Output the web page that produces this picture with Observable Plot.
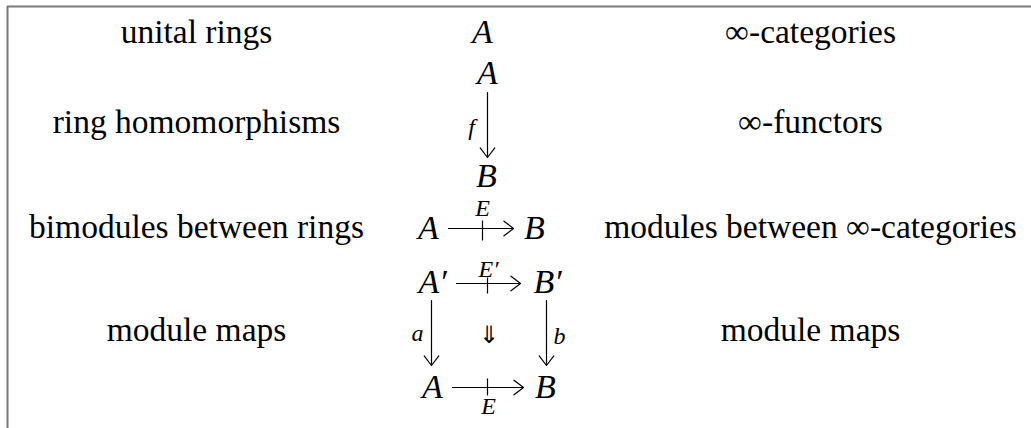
<!DOCTYPE html>
<html><head><meta charset="utf-8">
<script src="https://cdn.jsdelivr.net/npm/d3@7"></script>
<script src="https://cdn.jsdelivr.net/npm/@observablehq/plot@0.6"></script>
<style>html,body{margin:0;padding:0;background:#fff;} #chart svg{display:block}</style>
</head><body><div id="chart"></div>
<script>
// ---------- content ----------
const rowKeys = ["objects", "morphisms", "bimodules", "maps"];
const ringConcepts = ["unital rings", "ring homomorphisms", "bimodules between rings", "module maps"];
const infinityConcepts = ["∞-categories", "∞-functors", "modules between ∞-categories", "module maps"];
const nodeLabels = ["A", "A", "B", "A", "B", "A′", "B′", "A", "B"];
const nodeRows = ["objects", "morphisms", "morphisms", "bimodules", "bimodules", "maps", "maps", "maps", "maps"];
const arrowNames = ["f", "E", "E′", "a", "b", "E"];
const arrowKinds = ["functor", "module", "module", "functor", "functor", "module"];
const twoCellLabels = ["⇓"];

// ---------- layout ----------
const W = 1031, H = 428;
const colCenter = [196, 488, 810];
const rowBaseline = [42, 132, 237, 340];
const nodePos = [[482, 42], [487, 83], [486, 186], [428, 238], [534, 238], [432, 292], [547, 292], [432, 397], [545, 397]];
const arrowPos = [[487, 92, 487, 157], [448, 228, 513, 228], [456, 283, 520, 283], [431, 300, 431, 365], [546, 300, 546, 365], [452, 387, 523, 387]];
const arrowLabelPos = [[471, 134], [482, 215], [488, 276], [417, 340], [559, 343], [488, 413]];
const tickPos = {1: [482, 220, 240], 2: [487, 277, 293], 5: [487, 378, 395]};
const twoCellPos = [[488, 335]];

const serif = "Liberation Serif";
const leftCells = ringConcepts.map((t, i) => ({text: t, key: rowKeys[i], x: colCenter[0], y: rowBaseline[i]}));
const rightCells = infinityConcepts.map((t, i) => ({text: t, key: rowKeys[i], x: colCenter[2], y: rowBaseline[i]}));
const nodes = nodeLabels.map((t, i) => ({text: t, row: nodeRows[i], x: nodePos[i][0], y: nodePos[i][1]}));
const arrows = arrowNames.map((n, i) => ({name: n, kind: arrowKinds[i], x1: arrowPos[i][0], y1: arrowPos[i][1], x2: arrowPos[i][2], y2: arrowPos[i][3], lx: arrowLabelPos[i][0], ly: arrowLabelPos[i][1]}));
const ticks = arrows.map((a, i) => ({...a, t: tickPos[i]})).filter(a => a.kind === "module");
const twoCells = twoCellLabels.map((t, i) => ({text: t, x: twoCellPos[i][0], y: twoCellPos[i][1]}));

const chart = Plot.plot({
  width: W, height: H, margin: 0,
  x: {domain: [0, W], range: [0, W], axis: null},
  y: {domain: [0, H], range: [0, H], axis: null},
  style: {background: "#fff", overflow: "hidden"},
  marks: [
    Plot.ruleY([6], {x1: 7, x2: W, stroke: "#7a7a7a", strokeWidth: 2}),
    Plot.ruleX([7], {y1: 6, y2: H, stroke: "#7a7a7a", strokeWidth: 2}),
    Plot.text(leftCells, {x: "x", y: "y", text: "text", fontFamily: serif, fontSize: 33.5, lineAnchor: "bottom", textAnchor: "middle", fill: "#000"}),
    Plot.text(rightCells, {x: "x", y: "y", text: "text", fontFamily: serif, fontSize: 33.5, lineAnchor: "bottom", textAnchor: "middle", fill: "#000"}),
    Plot.text(nodes, {x: "x", y: "y", text: "text", fontFamily: serif, fontStyle: "italic", fontSize: 34, lineAnchor: "bottom", textAnchor: "middle", fill: "#000"}),
    Plot.arrow(arrows, {x1: "x1", y1: "y1", x2: "x2", y2: "y2", stroke: "#000", strokeWidth: 1.2, headAngle: 75, headLength: 15}),
    Plot.link(ticks, {x1: d => d.t[0], x2: d => d.t[0], y1: d => d.t[1], y2: d => d.t[2], stroke: "#000", strokeWidth: 1.2}),
    Plot.text(arrows, {x: "lx", y: "ly", text: "name", fontFamily: serif, fontStyle: "italic", fontSize: 24, lineAnchor: "bottom", textAnchor: "middle", fill: "#000"}),
    Plot.text(twoCells, {x: "x", y: "y", text: "text", fontFamily: serif, fontSize: 24, lineAnchor: "middle", textAnchor: "middle", fill: "#000"})
  ]
});
document.getElementById("chart").appendChild(chart);
</script>
</body></html>
